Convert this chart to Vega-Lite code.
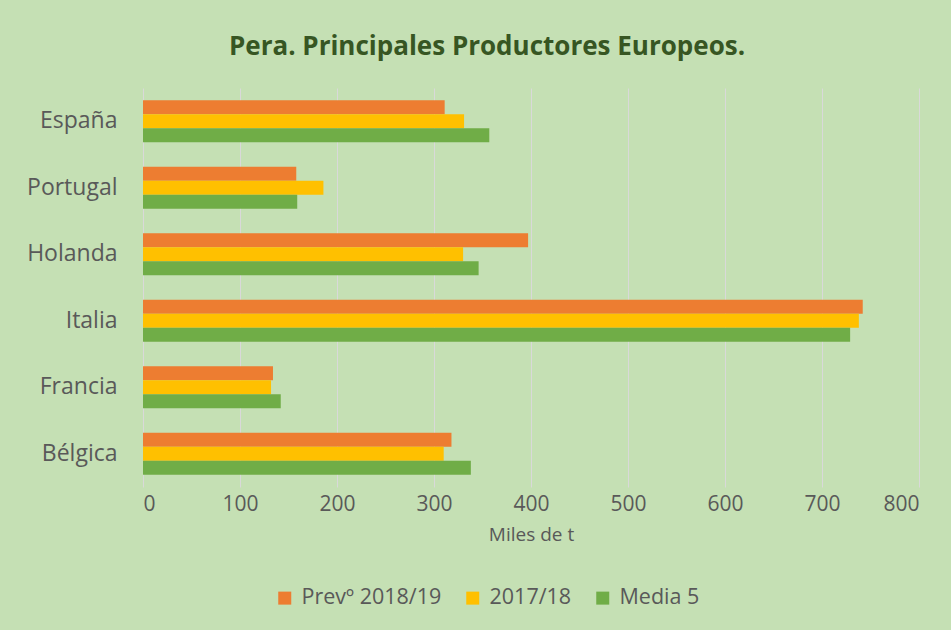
{
  "$schema": "https://vega.github.io/schema/vega-lite/v6.json",
  "autosize": {"type": "none"},
  "width": 776,
  "height": 399,
  "padding": {"left": 143, "top": 88, "right": 32, "bottom": 143},
  "background": "#C5E0B4",
  "title": {
    "text": "Pera. Principales Productores Europeos.",
    "font": "Open Sans",
    "fontSize": 26,
    "fontWeight": "bold",
    "color": "#375623",
    "anchor": "middle",
    "dx": -44,
    "offset": 28
  },
  "data": {
    "values": [
      {"pais": "España", "serie": "Prevº 2018/19", "valor": 311},
      {"pais": "España", "serie": "2017/18", "valor": 331},
      {"pais": "España", "serie": "Media 5", "valor": 357},
      {"pais": "Portugal", "serie": "Prevº 2018/19", "valor": 158},
      {"pais": "Portugal", "serie": "2017/18", "valor": 186},
      {"pais": "Portugal", "serie": "Media 5", "valor": 159},
      {"pais": "Holanda", "serie": "Prevº 2018/19", "valor": 397},
      {"pais": "Holanda", "serie": "2017/18", "valor": 330},
      {"pais": "Holanda", "serie": "Media 5", "valor": 346},
      {"pais": "Italia", "serie": "Prevº 2018/19", "valor": 742},
      {"pais": "Italia", "serie": "2017/18", "valor": 738},
      {"pais": "Italia", "serie": "Media 5", "valor": 729},
      {"pais": "Francia", "serie": "Prevº 2018/19", "valor": 134},
      {"pais": "Francia", "serie": "2017/18", "valor": 132},
      {"pais": "Francia", "serie": "Media 5", "valor": 142},
      {"pais": "Bélgica", "serie": "Prevº 2018/19", "valor": 318},
      {"pais": "Bélgica", "serie": "2017/18", "valor": 310},
      {"pais": "Bélgica", "serie": "Media 5", "valor": 338}
    ]
  },
  "mark": {"type": "bar", "stroke": null},
  "encoding": {
    "y": {
      "field": "pais",
      "type": "nominal",
      "sort": ["España", "Portugal", "Holanda", "Italia", "Francia", "Bélgica"],
      "scale": {"paddingInner": 0.37, "paddingOuter": 0.185},
      "axis": {
        "title": null,
        "domain": false,
        "ticks": false,
        "labelFont": "Open Sans",
        "labelFontSize": 23,
        "labelColor": "#595959",
        "labelPadding": 26
      }
    },
    "yOffset": {
      "field": "serie",
      "type": "nominal",
      "sort": ["Prevº 2018/19", "2017/18", "Media 5"],
      "scale": {"paddingInner": 0, "paddingOuter": 0}
    },
    "x": {
      "field": "valor",
      "type": "quantitative",
      "scale": {"domain": [0, 800], "nice": false},
      "axis": {
        "values": [0, 100, 200, 300, 400, 500, 600, 700, 800],
        "title": "Miles de t",
        "titleFont": "Open Sans",
        "titleFontSize": 19,
        "titleFontWeight": "normal",
        "titleColor": "#595959",
        "titlePadding": 11,
        "domain": false,
        "ticks": false,
        "grid": true,
        "gridColor": "#D9D9D9",
        "gridWidth": 1,
        "labelFont": "Open Sans",
        "labelFontSize": 21,
        "labelColor": "#595959",
        "labelPadding": 6
      }
    },
    "color": {
      "field": "serie",
      "type": "nominal",
      "sort": ["Prevº 2018/19", "2017/18", "Media 5"],
      "scale": {
        "domain": ["Prevº 2018/19", "2017/18", "Media 5"],
        "range": ["#ED7D31", "#FFC000", "#70AD47"]
      },
      "legend": {
        "title": null,
        "orient": "none",
        "direction": "horizontal",
        "legendX": 131,
        "legendY": 499,
        "symbolType": "square",
        "symbolSize": 169,
        "symbolStrokeWidth": 0,
        "labelFont": "Open Sans",
        "labelFontSize": 21.5,
        "labelColor": "#595959",
        "labelOffset": 6,
        "columnPadding": 20
      }
    }
  },
  "config": {
    "view": {"stroke": null}
  }
}
